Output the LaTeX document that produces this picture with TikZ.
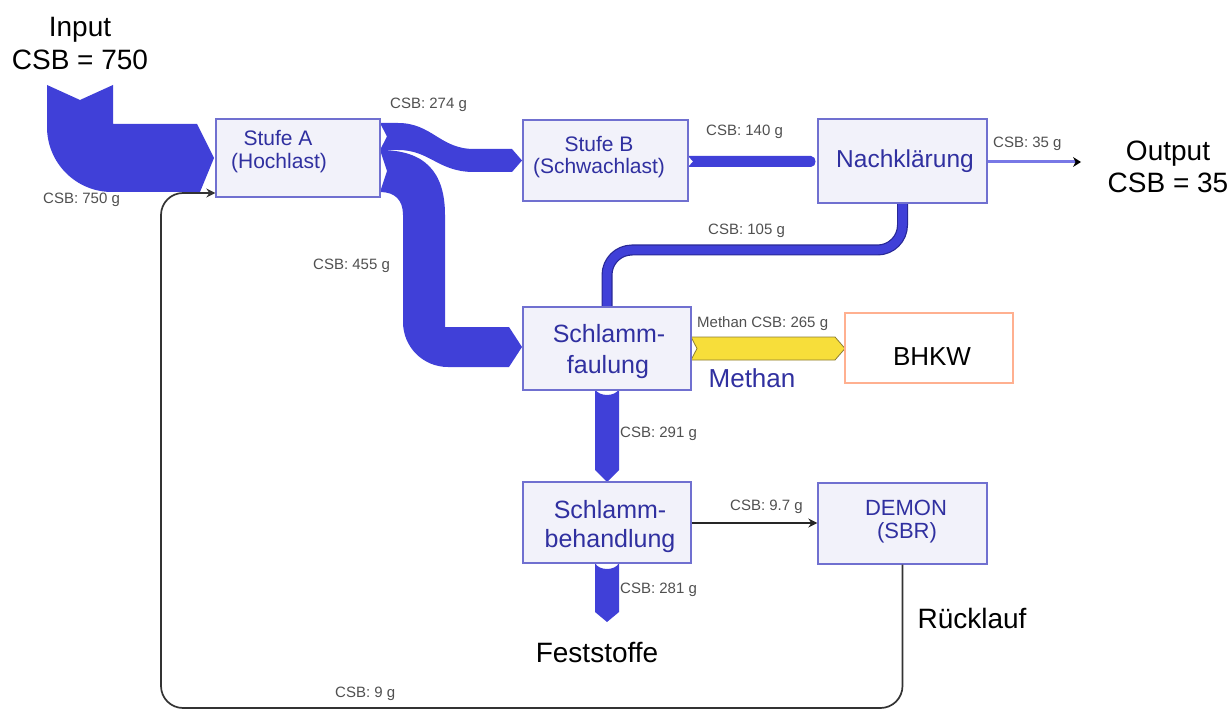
\documentclass[tikz,border=0pt]{standalone}
\usepackage{fontspec}
\setmainfont{Liberation Sans}
\usetikzlibrary{arrows.meta}
\definecolor{flowblue}{RGB}{64,64,216}
\definecolor{flowdark}{RGB}{40,40,150}
\definecolor{boxfill}{RGB}{242,242,250}
\definecolor{boxline}{RGB}{112,112,208}
\definecolor{boxtext}{RGB}{48,48,160}
\definecolor{labgray}{RGB}{80,80,80}
\definecolor{methyellow}{RGB}{247,222,58}
\definecolor{methline}{RGB}{140,125,50}
\definecolor{bhkwline}{RGB}{255,176,144}
\definecolor{outblue}{RGB}{120,120,230}
\begin{document}
\begin{tikzpicture}[x=1pt,y=-1pt,
  box/.style={draw=boxline, fill=boxfill, line width=1.3pt, inner sep=0pt},
  bt/.style={text=boxtext, inner sep=0pt, anchor=base},
  big/.style={text=black, inner sep=0pt, anchor=base, font=\fontsize{28}{32}\selectfont},
  lab/.style={text=labgray, font=\fontsize{15}{17}\selectfont, anchor=base west, inner sep=0pt},
  flow/.style={fill=flowblue},
  thinarrow/.style={draw=black!85, line width=1.7pt, -{Stealth[length=9pt,width=9pt]}},
  retline/.style={draw=black!80, line width=1.7pt, rounded corners=22pt, -{Stealth[length=9pt,width=9pt]}}
]
\useasboundingbox[fill=white] (0,0) rectangle (1231,711);

% ---- flows ----
% input 750
\fill[flow] (47,85) -- (80,100) -- (113,85) -- (113,124) -- (197,124) -- (214,158) -- (200,192) -- (112,192)
  .. controls (76,192) and (47,163) .. (47,127) -- cycle;
% 274 to Stufe B
\fill[flow] (380,123) -- (398,123) .. controls (432,123) and (440,149) .. (474,149) -- (512,149) -- (522,160.5)
  -- (512,172) -- (474,172) .. controls (438,172) and (430,150) .. (398,150) -- (380,150) -- (387,136.5) -- cycle;
% 455 to Schlammfaulung
\fill[flow] (380,150) .. controls (425,150) and (445,172) .. (445,215) -- (445,327) -- (509,327) -- (522,347)
  -- (509,367) -- (448,367) .. controls (423,367) and (403,347) .. (403,322) -- (403,215)
  .. controls (403,200) and (395,192) .. (380,192) -- (387,171) -- cycle;
% 140 to Nachklaerung
\fill[flow] (688,156) -- (811,156) .. controls (817,156) and (817,167) .. (811,167) -- (688,167) -- (693,161.5) -- cycle;
% 105 Nachklaerung -> Schlammfaulung
\coordinate (k1) at (902.5,250);
\coordinate (k2) at (607,250);
\draw[flowdark, line width=11pt, rounded corners=25pt] (902.5,203) -- (k1) -- (k2) -- (607,307);
\draw[flowblue, line width=8.6pt, rounded corners=25pt] (902.5,203) -- (k1) -- (k2) -- (607,307);
% 291 Schlammfaulung -> Schlammbehandlung
\fill[flow] (595,389) -- (595,470) -- (607,482) -- (619,470) -- (619,389) .. controls (615,397) and (599,397) .. cycle;
% 281 Feststoffe
\fill[flow] (595,563) -- (595,612) -- (607,622) -- (619,612) -- (619,563) .. controls (615,571) and (599,571) .. cycle;
% Methan
\filldraw[fill=methyellow, draw=methline, line width=0.8pt] (691,337) -- (835,337) -- (845,348.5) -- (835,360) -- (691,360) -- (697,348.5) -- cycle;

% ---- boxes ----
\node[box, minimum width=164pt, minimum height=78pt] (A) at (298,158) {};
\node[box, minimum width=165pt, minimum height=81pt] (B) at (605.5,160.5) {};
\node[box, minimum width=169pt, minimum height=84pt] (N) at (902.5,161) {};
\node[box, minimum width=168pt, minimum height=83pt] (F) at (607,348.5) {};
\node[draw=bhkwline, fill=white, line width=1.3pt, inner sep=0pt, minimum width=168pt, minimum height=70pt] (BH) at (929,348) {};
\node[box, minimum width=168pt, minimum height=81pt] (SB) at (607,522.5) {};
\node[box, minimum width=169pt, minimum height=81pt] (D) at (902.5,523.5) {};

% box texts
\node[bt, font=\fontsize{21}{24}\selectfont] (A1) at (278,146) {Stufe A};
\node[bt, font=\fontsize{21}{24}\selectfont] (A2) at (279,169) {(Hochlast)};
\node[bt, font=\fontsize{21}{24}\selectfont] (B1) at (599,152) {Stufe B};
\node[bt, font=\fontsize{21}{24}\selectfont] (B2) at (599,174) {(Schwachlast)};
\node[bt, font=\fontsize{24.5}{28}\selectfont] (N1) at (905,168) {Nachklärung};
\node[bt, font=\fontsize{25}{28}\selectfont] (F1) at (609,342) {Schlamm-};
\node[bt, font=\fontsize{25}{28}\selectfont] (F2) at (608,373) {faulung};
\node[bt, font=\fontsize{25}{28}\selectfont] (S1) at (610,518) {Schlamm-};
\node[bt, font=\fontsize{25}{28}\selectfont] (S2) at (610,547) {behandlung};
\node[bt, font=\fontsize{22}{25}\selectfont] (D1) at (906,515) {DEMON};
\node[bt, font=\fontsize{22}{25}\selectfont] (D2) at (907,538) {(SBR)};
\node[inner sep=0pt, anchor=base, font=\fontsize{26}{30}\selectfont] (BH1) at (932,365) {BHKW};

% ---- thin connectors ----
\draw[thinarrow] (SB.east |- 0,523) -- (D.west |- 0,523);
\coordinate (r1) at (902.5,708);
\coordinate (r2) at (161,708);
\coordinate (r3) at (161,193);
\draw[retline] (D.south) -- (r1) -- (r2) -- (r3) -- (A.west |- r3);
\coordinate (outend) at (1081,162);
\draw[outblue, line width=3pt, -{Stealth[color=black, length=8pt, width=10pt, line width=0pt]}] (N.east |- outend) -- (outend);

% ---- big texts ----
\node[big] (in1) at (80,37) {Input};
\node[big] (in2) at (80,70) {CSB = 750};
\node[big] (out1) at (1168,161) {Output};
\node[big] (out2) at (1168,193) {CSB = 35};
\node[inner sep=0pt, anchor=base, text=boxtext, font=\fontsize{26}{30}\selectfont] (meth) at (752,387) {Methan};
\node[big] (fest) at (597,662) {Feststoffe};
\node[big] (rueck) at (972,628) {Rücklauf};

% ---- flow labels ----
\node[lab] (l750) at (43,204) {CSB: 750 g};
\node[lab] (l274) at (390,109) {CSB: 274 g};
\node[lab] (l455) at (313,270) {CSB: 455 g};
\node[lab] (l140) at (706,136) {CSB: 140 g};
\node[lab] (l35) at (993,148) {CSB: 35 g};
\node[lab] (l105) at (708,235) {CSB: 105 g};
\node[lab] (l265) at (697,327) {Methan CSB: 265 g};
\node[lab] (l291) at (620,437) {CSB: 291 g};
\node[lab] (l97) at (730,510) {CSB: 9.7 g};
\node[lab] (l281) at (620,593) {CSB: 281 g};
\node[lab] (l9) at (335,697) {CSB: 9 g};
\end{tikzpicture}
\end{document}
